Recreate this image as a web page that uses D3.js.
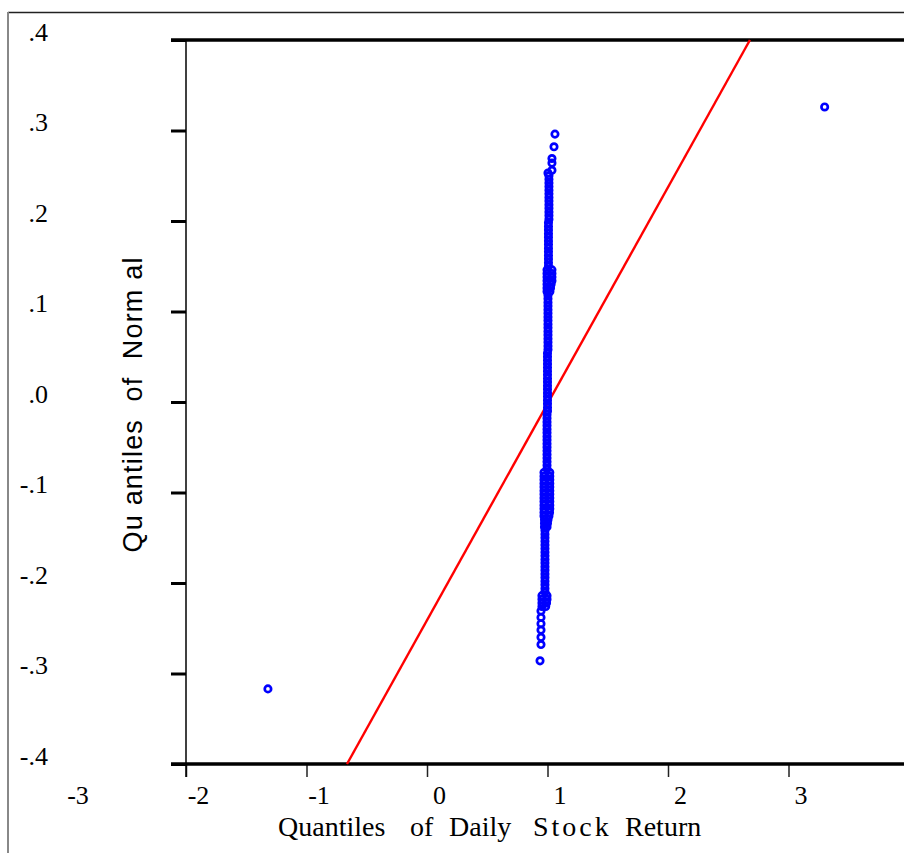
<!DOCTYPE html>
<html>
<head>
<meta charset="utf-8">
<script src="https://cdn.jsdelivr.net/npm/d3@7"></script>
<style>
  body { margin: 0; background: #fff; }
  svg { display: block; }
</style>
</head>
<body>
<div id="container"></div>
<script>
const width = 904;
const height = 853;

// Tick values and labels
const xTicks = [-3, -2, -1, 0, 1, 2, 3];
const yTicks = [-0.4, -0.3, -0.2, -0.1, 0, 0.1, 0.2, 0.3, 0.4];
const yTickLabels = ["-.4", "-.3", "-.2", "-.1", ".0", ".1", ".2", ".3", ".4"];

// Axis titles (x title is set word by word)
const xTitleWords = ["Quantiles", "of", "Daily", "Stock", "Return"];
const yTitle = "Qu antiles  of  Norm al";

// Reference line (red)
const lineX = [-0.664, 2.68];
const lineY = [-0.4, 0.4];

// Isolated points
const outliers = [[-1.32, -0.317], [3.30, 0.326]];

// Quantile points, read top to bottom
const upperTail = [[1.062, 0.296], [1.054, 0.282], [1.037, 0.269], [1.037, 0.264], [1.037, 0.256], [1.004, 0.253]];

const upperBody = [
  [1.012, 0.250], [1.012, 0.246], [1.012, 0.242], [1.012, 0.238], [1.012, 0.234], [1.012, 0.230],
  [1.012, 0.226], [1.012, 0.222], [1.012, 0.218], [1.012, 0.214], [1.012, 0.210], [1.012, 0.206],
  [1.012, 0.202], [1.008, 0.198], [1.008, 0.194], [1.008, 0.190], [1.008, 0.186], [1.008, 0.182],
  [1.008, 0.178], [1.008, 0.174], [1.008, 0.170], [1.008, 0.166], [1.008, 0.162], [1.008, 0.158],
  [1.008, 0.154], [1.008, 0.150]
];

const upperBulge = [
  [0.996, 0.146], [1.037, 0.146], [0.996, 0.142], [1.037, 0.142], [0.996, 0.138], [1.037, 0.138],
  [0.996, 0.134], [1.037, 0.134], [0.996, 0.130], [1.030, 0.130], [0.996, 0.126], [1.025, 0.126],
  [0.996, 0.122], [1.020, 0.122]
];

const middleBody = [
  [1.004, 0.118], [1.004, 0.114], [1.004, 0.110], [1.004, 0.106], [1.004, 0.102], [1.004, 0.098],
  [1.004, 0.094], [1.004, 0.090], [1.004, 0.086], [1.004, 0.082], [1.004, 0.078], [1.004, 0.074],
  [1.004, 0.070], [1.004, 0.066], [1.004, 0.062], [1.004, 0.058], [1.000, 0.054], [1.000, 0.050],
  [1.000, 0.046], [1.000, 0.042], [1.000, 0.038], [1.000, 0.034], [1.000, 0.030], [1.000, 0.026],
  [1.000, 0.022], [1.000, 0.018], [1.000, 0.014], [1.000, 0.010], [1.000, 0.006], [1.000, 0.002],
  [1.000, -0.002], [1.000, -0.006], [1.000, -0.010], [0.996, -0.014], [0.996, -0.018], [0.996, -0.022],
  [0.996, -0.026], [0.996, -0.030], [0.996, -0.034], [0.996, -0.038], [0.996, -0.042], [0.996, -0.046],
  [0.996, -0.050], [0.996, -0.054], [0.996, -0.058], [0.996, -0.062], [0.996, -0.066], [0.996, -0.070],
  [0.996, -0.074]
];

const lowerBulge = [
  [0.971, -0.078], [1.019, -0.078], [0.971, -0.082], [1.019, -0.082], [0.971, -0.086], [1.019, -0.086],
  [0.971, -0.090], [1.019, -0.090], [0.971, -0.094], [1.019, -0.094], [0.971, -0.098], [1.019, -0.098],
  [0.971, -0.102], [1.019, -0.102], [0.971, -0.106], [1.019, -0.106], [0.971, -0.110], [1.019, -0.110],
  [0.971, -0.114], [1.019, -0.114], [0.971, -0.118], [1.019, -0.118], [0.971, -0.122], [1.017, -0.122],
  [0.971, -0.126], [1.012, -0.126], [0.975, -0.130], [1.004, -0.130], [0.975, -0.134], [1.000, -0.134],
  [0.975, -0.138], [0.996, -0.138]
];

const lowerBody = [
  [0.979, -0.142], [0.979, -0.146], [0.979, -0.150], [0.979, -0.154], [0.979, -0.158], [0.979, -0.162],
  [0.979, -0.166], [0.979, -0.170], [0.979, -0.174], [0.979, -0.178], [0.979, -0.182], [0.979, -0.186],
  [0.979, -0.190], [0.979, -0.194], [0.979, -0.198], [0.979, -0.202], [0.979, -0.206], [0.979, -0.210]
];

const lowerBulge2 = [
  [0.954, -0.214], [0.996, -0.214], [0.954, -0.218], [0.996, -0.218],
  [0.954, -0.222], [0.992, -0.222], [0.954, -0.226], [0.985, -0.226]
];

const lowerTail = [
  [0.946, -0.231], [0.946, -0.238], [0.946, -0.245], [0.946, -0.252],
  [0.946, -0.260], [0.946, -0.268], [0.938, -0.286]
];

const points = [].concat(upperTail, upperBody, upperBulge, middleBody,
  lowerBulge, lowerBody, lowerBulge2, lowerTail, outliers);

const serif = "'Liberation Serif', 'Times New Roman', serif";
const sans = "'Liberation Sans', Arial, sans-serif";

const svg = d3
  .select("#container")
  .append("svg")
  .attr("width", width)
  .attr("height", height);

// scales
const xScale = d3.scaleLinear().domain([-2, 4]).range([186, 909]);
const yScale = d3.scaleLinear().domain([-0.4, 0.4]).range([764, 40]);

// outer frame (top and left edges only)
svg.append("line")
  .attr("x1", 8).attr("x2", width).attr("y1", 12.5).attr("y2", 12.5)
  .attr("stroke", "#222").attr("stroke-width", 1.5);
svg.append("line")
  .attr("x1", 8).attr("x2", 8).attr("y1", 12).attr("y2", height)
  .attr("stroke", "#888").attr("stroke-width", 2);

// y axis
const yAxis = d3.axisLeft(yScale)
  .tickValues(yTicks)
  .tickSize(15)
  .tickPadding(123)
  .tickFormat((d, i) => yTickLabels[i]);

const gy = svg.append("g")
  .attr("transform", `translate(${xScale(-2)},0)`)
  .call(yAxis);
gy.select(".domain").remove();
gy.selectAll(".tick line").attr("stroke", "#000").attr("stroke-width", 3);
gy.selectAll(".tick text")
  .attr("dy", 0)
  .attr("font-family", serif)
  .attr("font-size", 26)
  .attr("fill", "#000");

// x axis
const xAxis = d3.axisBottom(xScale)
  .tickValues(xTicks)
  .tickSize(13)
  .tickPadding(27)
  .tickFormat((d) => String(d));

const gx = svg.append("g")
  .attr("transform", `translate(0,${yScale(-0.4)})`)
  .call(xAxis);
gx.select(".domain").remove();
gx.selectAll(".tick").filter((d) => d < -2).select("line").remove();
gx.selectAll(".tick line").attr("stroke", "#222").attr("stroke-width", 1.5);
gx.selectAll(".tick text")
  .attr("x", 12)
  .attr("y", 40)
  .attr("dy", 0)
  .attr("font-family", serif)
  .attr("font-size", 26)
  .attr("fill", "#000");

// plot frame: thick top and bottom, thin left
svg.append("line")
  .attr("x1", 171).attr("x2", width)
  .attr("y1", yScale(0.4)).attr("y2", yScale(0.4))
  .attr("stroke", "#000").attr("stroke-width", 3.5);
svg.append("line")
  .attr("x1", 171).attr("x2", width)
  .attr("y1", yScale(-0.4)).attr("y2", yScale(-0.4))
  .attr("stroke", "#000").attr("stroke-width", 3.5);
svg.append("line")
  .attr("x1", xScale(-2)).attr("x2", xScale(-2))
  .attr("y1", yScale(0.4)).attr("y2", yScale(-0.4) + 13)
  .attr("stroke", "#000").attr("stroke-width", 1.5);

// red reference line
const line = d3.line()
  .x((d) => xScale(d[0]))
  .y((d) => yScale(d[1]));

svg.append("path")
  .datum(lineX.map((x, i) => [x, lineY[i]]))
  .attr("d", line)
  .attr("fill", "none")
  .attr("stroke", "#ff0000")
  .attr("stroke-width", 2.4);

// quantile points
svg.append("g")
  .selectAll("circle")
  .data(points)
  .enter()
  .append("circle")
  .attr("cx", (d) => xScale(d[0]))
  .attr("cy", (d) => yScale(d[1]))
  .attr("r", 3.2)
  .attr("fill", "none")
  .attr("stroke", "#0000ff")
  .attr("stroke-width", 2.7);

// x title, word positions
const xWordStarts = [278, 410, 449, 533, 625];
const xTitle = svg.append("text")
  .attr("y", 836)
  .attr("font-family", serif)
  .attr("font-size", 28)
  .attr("fill", "#000");
xTitle.selectAll("tspan")
  .data(xTitleWords)
  .enter()
  .append("tspan")
  .attr("x", (d, i) => xWordStarts[i])
  .attr("letter-spacing", (d) => (d === "Stock" ? 3 : 0))
  .text((d) => d);

// y title
svg.append("text")
  .attr("transform", "translate(142,405) rotate(-90)")
  .attr("text-anchor", "middle")
  .attr("font-family", sans)
  .attr("font-size", 27)
  .attr("textLength", 295)
  .attr("lengthAdjust", "spacing")
  .style("white-space", "pre")
  .attr("fill", "#000")
  .text(yTitle);
</script>
</body>
</html>
